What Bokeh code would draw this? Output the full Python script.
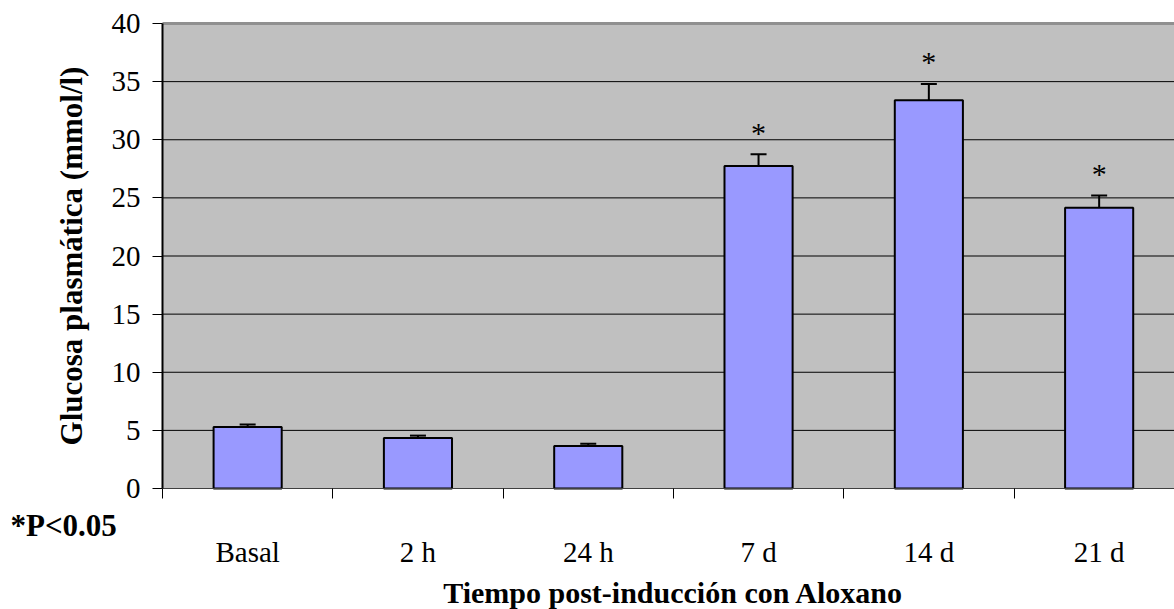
from bokeh.plotting import figure
from bokeh.models import (Range1d, FixedTicker, Whisker, ColumnDataSource, Label,
                          LinearAxis)
from bokeh.embed import file_html
from bokeh.resources import INLINE
from bokeh.core.properties import value

categories = ["Basal", "2 h", "24 h", "7 d", "14 d", "21 d"]
glucose = [5.3, 4.35, 3.65, 27.75, 33.4, 24.15]
sem = [0.2, 0.2, 0.2, 1.0, 1.4, 1.05]
significant = ["", "", "", "*", "*", "*"]
y_ticks = [0, 5, 10, 15, 20, 25, 30, 35, 40]
y_max = 40

FONT = "Liberation Serif"

centers = [i + 0.5 for i in range(len(categories))]
upper = [g + e for g, e in zip(glucose, sem)]
src = ColumnDataSource(dict(x=centers, top=glucose, upper=upper, star=significant))

# layout geometry (pixels)
W, H = 1174, 609
left_px, top_px, bottom_px = 162, 23, 488
cat_px = 170.3
unit_px = (bottom_px - top_px) / y_max
x_end = (W - left_px) / cat_px
x_range = Range1d(-left_px / cat_px, x_end)
y_range = Range1d(-(H - bottom_px) / unit_px, y_max + top_px / unit_px)

p = figure(width=W, height=H, output_backend="svg", toolbar_location=None,
           x_range=x_range, y_range=y_range,
           x_axis_location=None, y_axis_location=None,
           min_border_left=0, min_border_right=0, min_border_top=0,
           min_border_bottom=0)
p.outline_line_color = None
p.background_fill_color = "white"
p.border_fill_color = "white"
p.grid.visible = False

# plot area background
p.quad(left=0, right=x_end, bottom=0, top=y_max, fill_color="#C0C0C0",
       line_color=None)
# horizontal grid lines
grid_y = y_ticks[1:-1]
p.segment(x0=[0] * len(grid_y), x1=[x_end] * len(grid_y), y0=grid_y, y1=grid_y,
          line_color="black", line_width=1)
# top border of plot area
p.segment(x0=[0], x1=[x_end], y0=[y_max], y1=[y_max], line_color="#909090",
          line_width=3)

p.vbar(x="x", top="top", width=0.40, bottom=0, source=src,
       fill_color="#9999FF", line_color="black", line_width=2)

w = Whisker(base="x", lower="top", upper="upper", source=src, level="annotation",
            line_color="black", line_width=2, lower_head=None)
w.upper_head.size = 16
w.upper_head.line_width = 2
p.add_layout(w)

p.text(x="x", y="upper", text="star", source=src, text_align="center",
       text_baseline="middle", y_offset=-22, text_font=value(FONT),
       text_font_size="30px", text_color="black")

# y axis
yax = LinearAxis(fixed_location=0, bounds=(0, y_max))
yax.ticker = FixedTicker(ticks=y_ticks)
yax.axis_line_color = "black"
yax.axis_line_width = 2
yax.major_tick_in = 0
yax.major_tick_out = 10
yax.major_tick_line_color = "black"
yax.minor_tick_line_color = None
yax.major_label_text_font = FONT
yax.major_label_text_font_size = "29px"
yax.major_label_text_color = "black"
yax.major_label_standoff = 12
yax.axis_label = "Glucosa plasmática (mmol/l)"
yax.axis_label_text_font = FONT
yax.axis_label_text_font_style = "bold"
yax.axis_label_text_font_size = "31px"
yax.axis_label_text_color = "black"
yax.axis_label_standoff = 20
p.add_layout(yax, "left")

# x axis
xax = LinearAxis(fixed_location=0, bounds=(0, x_end))
xax.ticker = FixedTicker(ticks=centers, minor_ticks=list(range(len(categories) + 1)))
xax.major_label_overrides = {c: lab for c, lab in zip(centers, categories)}
xax.major_tick_line_color = None
xax.major_tick_in = 0
xax.major_tick_out = 0
xax.minor_tick_in = 0
xax.minor_tick_out = 10
xax.minor_tick_line_color = "black"
xax.axis_line_color = "#404040"
xax.axis_line_width = 1
xax.major_label_text_font = FONT
xax.major_label_text_font_size = "29px"
xax.major_label_text_color = "black"
xax.major_label_standoff = 37
p.add_layout(xax, "below")

p.add_layout(Label(x=len(categories) / 2, y=H - 592, x_units="data", y_units="screen",
                   text="Tiempo post-inducción con Aloxano", text_align="center",
                   text_baseline="middle", text_font=FONT, text_font_style="bold",
                   text_font_size="30px", text_color="black"))
p.add_layout(Label(x=10, y=H - 525, x_units="screen", y_units="screen",
                   text="*P<0.05", text_align="left", text_baseline="middle",
                   text_font=FONT, text_font_style="bold", text_font_size="31px",
                   text_color="black"))

open("out.html", "w").write(file_html(p, INLINE))
